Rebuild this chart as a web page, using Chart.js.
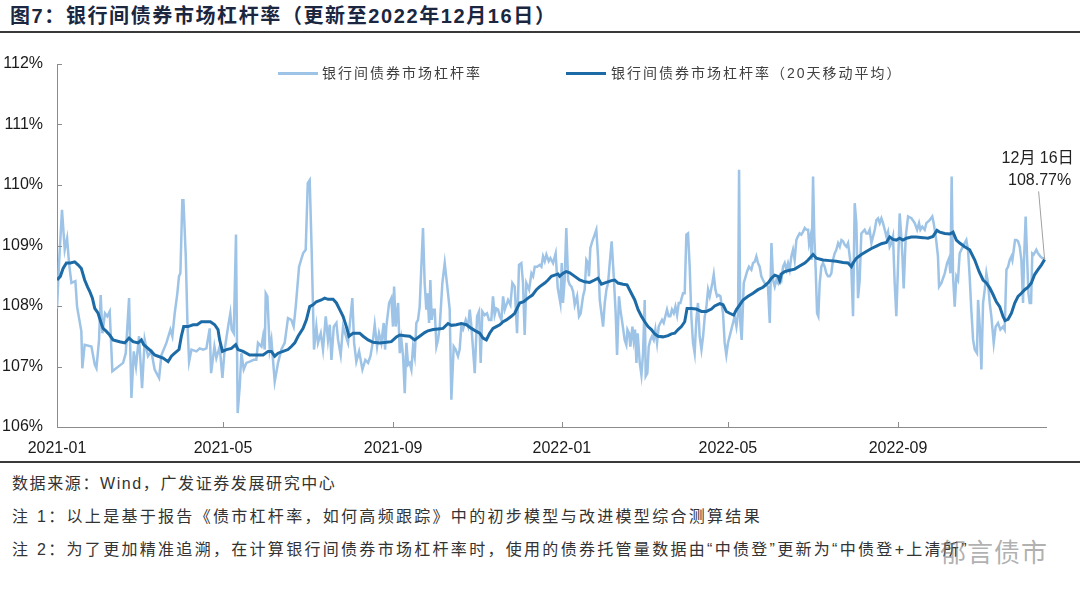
<!DOCTYPE html>
<html>
<head>
<meta charset="utf-8">
<script src="https://cdn.jsdelivr.net/npm/chart.js@4/dist/chart.umd.min.js"></script>
<style>
  body { margin:0; width:1080px; height:591px; background:#fff; position:relative; overflow:hidden;
         font-family:"Liberation Sans","Noto Sans CJK SC",sans-serif; }
  .title { position:absolute; left:10px; top:0px; font-size:20px; font-weight:bold; color:#1b2640; white-space:nowrap; letter-spacing:1.6px; }
  .rule { position:absolute; left:0; width:1080px; height:2px; background:#3a3a3a; }
  .wrap { position:absolute; left:0; top:50px; width:1080px; height:410px; }
  .legend { position:absolute; top:63px; height:20px; font-size:14px; color:#404040; letter-spacing:2px; white-space:nowrap; }
  .legend span.sw { position:absolute; top:9px; height:3px; }
  .legend span.tx { position:absolute; top:0; line-height:20px; }
  .note { position:absolute; left:12px; font-size:16px; color:#333; white-space:nowrap; letter-spacing:2.3px; }
  .mark { position:absolute; left:940px; top:532px; font-size:26px; color:rgba(110,110,110,0.55); letter-spacing:1px; }
</style>
</head>
<body>
<div class="title">图7：银行间债券市场杠杆率（更新至2022年12月16日）</div>
<div class="rule" style="top:31px"></div>
<div class="wrap"><canvas id="c"></canvas></div>
<div class="legend" style="left:0;width:1080px">
  <span class="sw" style="left:278px;width:40px;background:#9dc3e6"></span>
  <span class="tx" style="left:322px">银行间债券市场杠杆率</span>
  <span class="sw" style="left:566px;width:40px;background:#1c6ba6"></span>
  <span class="tx" style="left:611px">银行间债券市场杠杆率（20天移动平均）</span>
</div>
<div class="rule" style="top:461px"></div>
<div class="note" style="top:470px;letter-spacing:1.6px">数据来源：Wind，广发证券发展研究中心</div>
<div class="note" style="top:503px">注 1：以上是基于报告《债市杠杆率，如何高频跟踪》中的初步模型与改进模型综合测算结果</div>
<div class="note" style="top:536px">注 2：为了更加精准追溯，在计算银行间债券市场杠杆率时，使用的债券托管量数据由“中债登”更新为“中债登+上清所”</div>
<div class="mark">郁言债市</div>
<script>
// x = days since 2021-01-01, y = leverage (%)
const tickDays = [0, 120, 243, 365, 485, 608];
const tickLabels = ['2021-01', '2021-05', '2021-09', '2022-01', '2022-05', '2022-09'];
const lastDateLabel = '12月 16日';

const rawSeries = [
  [0,107.96],[1.5,108.71],[3.6,109.59],[5.6,108.93],[7.3,109.12],[8.7,108.71],[10.4,108.38],[13.3,108.41],
  [14.5,107.99],[17.6,107.58],[18.3,106.97],[20,107.36],[24.9,107.33],[27.3,107.03],[28.5,106.97],[30.4,107.44],
  [31.6,108.18],[32.8,107.55],[34.7,107.88],[36.4,107.83],[38.1,107.91],[40,106.92],[47.8,107.06],[49.7,107.22],
  [52.1,108.13],[53.8,106.48],[55.5,107.25],[57.1,107.0],[59.3,107.5],[61.5,106.64],[63.4,107.44],[65.8,107.17],
  [68.2,107.25],[70.6,106.95],[73.8,106.81],[75.5,107.19],[79.1,107.39],[82,107.61],[83.4,107.5],[85.1,107.88],
  [87,108.21],[88.2,108.49],[89.2,108.54],[90.6,109.75],[91.4,109.75],[93.1,108.82],[94.3,107.72],[95.5,107.08],
  [97.2,107.28],[100.8,107.25],[103.2,107.3],[105.6,107.28],[108,107.3],[110.4,107.63],[111.4,106.89],[113.8,107.33],
  [115.2,107.14],[117.6,107.33],[119.6,106.81],[121.2,107.28],[123.7,107.66],[125.3,107.88],[126.3,107.61],[127.8,107.55],
  [129.4,109.18],[130.6,106.23],[132.1,106.67],[133.3,107.22],[135,106.95],[136.9,107.06],[139.3,107.08],[142.2,107.11],
  [144.1,107.11],[145.3,107.39],[147.8,107.33],[149,107.5],[150.2,107.28],[150.9,108.21],[152.1,108.16],[153.8,107.28],
  [155,107.44],[157.4,106.75],[159.8,107.06],[162.2,107.28],[164.6,107.39],[167,107.8],[169.4,107.77],[171.1,107.66],
  [172.6,107.99],[175,108.65],[177.9,108.87],[179.8,108.93],[181.3,110.03],[182.7,110.08],[184.1,108.93],[185.8,107.28],
  [187.5,107.66],[188.7,107.39],[190.7,107.55],[192.3,107.28],[194.3,107.83],[195.9,107.44],[197.2,107.69],[198.4,107.11],
  [200.1,107.66],[202,107.72],[203.2,107.44],[205.1,107.19],[206.8,107.66],[210.4,107.39],[213.5,108.13],[214.8,107.39],
  [216.4,107.08],[218.4,107.25],[220.8,106.95],[222.9,107.11],[224.9,107.06],[226.6,107.17],[228.2,107.39],[229.7,107.69],
  [231.4,107.33],[232.8,107.55],[234.5,107.39],[236.2,107.72],[237.2,107.28],[238.1,107.66],[240.1,108.05],[241.7,108.13],
  [242.9,107.66],[243.7,108.32],[244.9,107.66],[246.6,108.05],[247.8,107.22],[249,107.44],[250.2,107.17],[251.4,106.56],
  [252.6,107.39],[253.8,107.03],[255,107.06],[256.2,106.95],[257.4,107.33],[258.6,107.17],[259.8,107.72],[261,107.77],
  [262.2,107.99],[263.4,108.65],[264.6,109.29],[265.8,108.38],[267,107.94],[267.8,108.21],[269,107.72],[269.9,108.43],
  [270.9,107.77],[271.9,107.94],[273.1,107.94],[274.3,107.33],[275.5,107.44],[276.7,107.66],[278.6,108.38],[280.3,108.71],
  [282.7,108.21],[283.9,107.94],[285.1,106.45],[286.8,107.33],[288.2,107.28],[289.9,107.17],[291.1,107.28],[292.3,107.66],
  [293.5,107.61],[295.5,107.77],[297.2,107.66],[298.4,107.94],[299.6,107.66],[302,106.89],[303.7,107.83],[305.1,107.91],
  [306.3,107.06],[307.5,107.91],[309.2,107.85],[310.9,107.88],[312.3,107.77],[314,107.77],[315.2,108.16],[316.4,107.85],
  [317.6,107.96],[318.9,107.94],[320.1,107.83],[321.3,107.77],[322.5,108.16],[323.7,107.94],[326.1,108.1],[327.8,108.02],
  [329.2,108.38],[330.9,108.32],[332.6,107.55],[334,108.68],[335.7,108.71],[336.9,108.38],[338.1,107.52],[339.3,108.38],
  [341.3,108.27],[343,108.54],[344.2,108.49],[345.4,108.65],[347.1,108.65],[349,108.68],[350.2,108.65],[351.4,108.82],
  [352.6,108.74],[353.8,108.85],[355.5,108.74],[356.7,108.79],[358.6,108.71],[360.5,108.87],[362,108.3],[363.9,108.05],
  [364.9,108.71],[365.8,108.05],[367,108.43],[368.2,109.29],[369.5,108.43],[370.7,108.35],[371.9,108.32],[373.1,108.24],
  [374.3,108.02],[376,108.16],[377.4,107.83],[378.6,107.88],[380.3,108.16],[381.5,108.27],[382.7,108.76],[383.9,108.71],
  [384.6,108.49],[385.6,108.96],[387,109.07],[388.7,109.18],[389.9,109.26],[391.1,108.82],[392.4,108.1],[393.6,107.88],
  [394.8,107.66],[396,108.05],[397.2,108.27],[398.4,108.38],[399.6,108.71],[401,109.07],[402.5,108.49],[403.9,107.88],
  [404.9,107.19],[406.3,108.16],[407.3,107.94],[408.7,107.72],[410.4,107.44],[411.6,107.36],[412.4,107.61],[413.6,107.55],
  [414.5,107.33],[416,107.66],[416.9,107.44],[417.9,107.61],[418.9,107.06],[419.8,107.55],[421.3,107.06],[422.5,106.86],
  [423.7,107.22],[424.9,108.1],[425.6,106.84],[426.8,106.89],[427.8,107.33],[429,107.44],[430.2,107.5],[431.4,107.44],
  [432.6,107.61],[433.8,107.39],[435,107.66],[436.2,107.72],[437.4,107.77],[438.6,107.72],[439.8,107.83],[441,107.94],
  [442.2,107.83],[443.4,107.83],[444.6,107.94],[445.9,107.88],[447.1,107.99],[448.3,107.85],[449.5,108.05],[450.7,108.05],
  [451.6,108.13],[452.6,108.21],[453.8,108.21],[455,109.18],[456.2,109.2],[457.4,108.65],[458.6,107.83],[459.8,107.39],
  [461,107.22],[462.2,107.77],[463.4,108.05],[464.6,107.5],[465.9,107.28],[467.1,107.5],[468.3,107.83],[469.5,107.99],
  [470.7,108.27],[471.9,108.16],[473.8,108.38],[474.8,108.52],[476,108.27],[477.2,108.16],[478.4,108.18],[479.6,108.16],
  [481.5,107.88],[482.7,107.39],[483.9,107.19],[485.1,107.39],[486.3,107.5],[487.5,107.61],[488.7,107.72],[489.9,107.83],
  [491.2,107.66],[492.4,107.88],[493.1,110.25],[494,107.72],[495,107.44],[496.5,108.38],[497.9,108.49],[498.9,108.57],
  [500.3,108.65],[502,108.6],[503.2,108.71],[504.4,108.73],[505.6,108.82],[506.8,108.71],[508,108.65],[509.2,108.49],
  [510.4,108.43],[511.6,108.38],[512.8,108.35],[514,108.32],[515.3,107.72],[516.5,109.04],[517.7,108.43],[518.9,108.32],
  [520.1,108.43],[521.3,108.38],[522.5,108.49],[523.7,108.43],[524.9,108.65],[526.1,108.71],[527.3,108.6],[528.5,108.71],
  [529.7,108.6],[530.9,108.82],[532.1,108.93],[533.3,108.76],[534.5,109.09],[535.7,109.15],[536.9,109.2],[538.1,109.18],
  [539.4,109.23],[540.6,109.29],[541.8,109.26],[543,109.26],[543.7,109.04],[544.7,109.15],[545.6,108.76],[546.6,110.14],
  [547.5,109.15],[548.5,108.6],[549.5,107.88],[550.4,107.83],[551.4,108.38],[552.6,108.65],[553.8,108.71],[555,108.65],
  [556.2,108.54],[557.4,108.49],[558.6,108.49],[559.8,108.54],[561,108.76],[562.2,108.87],[563.4,108.93],[564.7,109.04],
  [565.9,108.98],[567.1,109.09],[568.3,109.07],[569.5,109.01],[570.7,108.98],[571.9,109.04],[573.1,108.82],[574.3,108.6],
  [575.5,107.83],[576.7,109.7],[577.9,109.37],[579.1,108.13],[580.3,108.43],[581.5,109.2],[582.7,109.23],[583.9,109.26],
  [585.1,109.2],[586.3,109.2],[587.5,109.26],[588.8,109.04],[590,109.15],[591.2,109.26],[592.4,109.42],[593.6,109.45],
  [594.8,109.37],[596,109.45],[597.2,109.37],[598.4,109.26],[599.6,109.15],[600.8,109.23],[602,108.98],[603.2,109.04],
  [604.4,109.15],[605.6,108.38],[606.8,107.83],[608,108.65],[609.2,109.53],[610.4,109.15],[611.2,108.82],[612.1,108.29],
  [613.6,109.15],[615.3,109.48],[617.7,109.45],[620.1,109.37],[621.8,109.26],[623.2,109.37],[624.2,109.26],[625.6,109.31],
  [627.3,109.26],[628.5,109.37],[630.9,109.42],[632.8,109.48],[633.8,109.37],[635.3,109.15],[636.9,108.82],[637.7,108.32],
  [639.4,108.38],[641.8,108.54],[643.5,108.71],[644.9,108.79],[645.9,108.54],[646.8,110.14],[647.8,108.49],[649,107.99],
  [650.2,108.49],[651.4,108.43],[652.6,108.87],[653.8,108.93],[655,108.98],[656.2,109.04],[657.4,109.09],[658.6,108.93],
  [659.8,108.49],[661,107.94],[662.3,107.44],[663.5,107.28],[665.1,107.22],[665.9,108.1],[667.1,107.66],[668.3,106.95],
  [669.5,108.05],[670.7,108.27],[671.9,108.54],[673.1,108.38],[674.3,108.05],[675.5,107.83],[677.2,107.39],[678.6,107.66],
  [680.3,107.72],[682,107.61],[683.9,107.66],[685.1,107.61],[686.4,108.6],[687.6,108.65],[688.8,108.76],[690,108.82],
  [690.7,108.76],[691.7,108.93],[692.6,109.09],[693.6,109.09],[694.8,109.07],[696,108.98],[697.2,108.76],[698.4,108.05],
  [699.1,108.76],[700.3,109.48],[701.3,108.82],[702.3,108.21],[703.2,108.05],[704.2,108.05],[705.1,108.87],[706.1,108.85],
  [708,108.93],[709.2,108.87],[710.9,108.82],[712.4,108.79],[713.3,108.79],[714,108.77]
];

const maSeries = [
  [0,108.43],[2.4,108.49],[4.4,108.62],[6.8,108.71],[9.7,108.71],[12.8,108.73],[15.2,108.68],[17.6,108.62],
  [20,108.43],[22,108.32],[23.7,108.24],[25.6,108.13],[27.3,107.96],[29.7,107.88],[31.6,107.74],[33.3,107.63],
  [35.7,107.58],[38.1,107.52],[40.5,107.44],[45.3,107.41],[49,107.39],[52.1,107.47],[55,107.41],[58.6,107.39],
  [61,107.44],[62.7,107.36],[65.8,107.3],[68.2,107.25],[70.6,107.19],[73.1,107.17],[76.7,107.14],[80.3,107.08],
  [82.7,107.17],[85.1,107.22],[88.2,107.28],[89.9,107.5],[91.6,107.66],[94.7,107.66],[98.4,107.69],[101.3,107.69],
  [104.4,107.74],[108,107.74],[110.9,107.74],[114,107.69],[116.4,107.61],[117.6,107.44],[119.6,107.25],[122.5,107.28],
  [126.1,107.3],[129.2,107.36],[130.9,107.28],[134.5,107.25],[139.3,107.19],[144.1,107.19],[149,107.19],[152.6,107.25],
  [155,107.25],[157.4,107.17],[159.8,107.22],[163.4,107.25],[167,107.28],[169.4,107.33],[171.9,107.39],[174.3,107.5],
  [177.9,107.63],[180.3,107.77],[182.7,107.99],[185.1,108.02],[187.5,108.07],[191.1,108.1],[193.5,108.13],[196,108.11],
  [199.6,108.11],[202,108.05],[204.4,107.94],[206.8,107.83],[209.2,107.66],[211.1,107.5],[214,107.55],[218.8,107.55],
  [221.3,107.5],[224.9,107.44],[228.5,107.4],[233.3,107.39],[238.1,107.4],[241.7,107.41],[245.4,107.49],[247.8,107.52],
  [251.4,107.51],[255,107.5],[258.6,107.44],[262.2,107.5],[265.8,107.56],[268.2,107.59],[271.9,107.61],[275.5,107.62],
  [279.1,107.63],[282.7,107.71],[285.1,107.68],[288.7,107.69],[292.3,107.71],[296,107.69],[299.6,107.63],[303.2,107.58],
  [305.6,107.55],[308,107.47],[310.4,107.44],[312.8,107.55],[315.2,107.63],[317.6,107.66],[320.1,107.69],[322.5,107.74],
  [324.9,107.77],[328.5,107.83],[330.9,107.88],[332.6,107.96],[334.5,108.05],[337.4,108.07],[340.5,108.13],[343.7,108.18],
  [346.6,108.27],[349,108.32],[352.6,108.38],[355,108.43],[357.4,108.49],[359.8,108.51],[362.2,108.53],[363.4,108.49],
  [365.8,108.54],[368.2,108.57],[370.7,108.55],[374.3,108.49],[377.9,108.43],[381.5,108.4],[385.1,108.39],[388.7,108.43],
  [391.1,108.46],[393.6,108.36],[397.2,108.39],[400.8,108.42],[403.2,108.43],[405.6,108.38],[409.2,108.36],[412.1,108.35],
  [415.2,108.21],[417.7,108.1],[420.1,107.94],[422.5,107.83],[424.9,107.74],[427.3,107.66],[429.7,107.61],[432.1,107.54],
  [434.5,107.5],[438.1,107.49],[441.8,107.51],[444.2,107.54],[446.6,107.55],[449,107.61],[451.4,107.66],[453.8,107.74],
  [455.5,107.96],[458.6,107.96],[462.2,107.95],[465.9,107.91],[469.5,107.91],[473.1,107.95],[475.5,108.0],[479.1,108.04],
  [481.5,108.02],[483.9,107.91],[486.3,107.88],[489.2,107.85],[491.2,107.94],[493.6,108.02],[496,108.1],[499.6,108.16],
  [503.2,108.21],[506.8,108.27],[510.4,108.31],[514,108.38],[516.5,108.46],[518.9,108.51],[521.3,108.49],[522.5,108.42],
  [523.7,108.53],[526.1,108.57],[529.7,108.59],[533.3,108.61],[536.9,108.66],[540.6,108.71],[543,108.76],[546.6,108.85],
  [549,108.79],[553.8,108.76],[558.6,108.75],[563.4,108.74],[568.3,108.72],[571.9,108.71],[574.3,108.65],[575.5,108.71],
  [577.9,108.79],[581.5,108.85],[585.1,108.9],[588.8,108.95],[592.4,108.99],[596,109.03],[599.6,109.05],[602,109.14],
  [604.4,109.1],[606.8,109.09],[609.2,109.12],[611.6,109.09],[614.1,109.12],[617.7,109.14],[621.3,109.14],[626.1,109.13],
  [629.7,109.12],[633.3,109.15],[636.2,109.25],[638.2,109.22],[641.8,109.2],[645.4,109.19],[647.8,109.22],[650.2,109.09],
  [652.6,109.04],[656.2,108.98],[659.8,108.93],[663.5,108.76],[666.6,108.57],[669.5,108.43],[671.9,108.38],[674.3,108.3],
  [676.7,108.19],[679.1,108.07],[681.5,107.99],[683.9,107.83],[685.4,107.76],[687.6,107.78],[690,107.88],[692.4,108.05],
  [694.8,108.16],[697.2,108.21],[699.6,108.27],[702,108.31],[704.4,108.38],[706.8,108.52],[709.2,108.6],[711.7,108.68],
  [714,108.77]
];

const axisColor = '#8c8c8c';
const labelFont = { family: '"Liberation Sans", Arial, sans-serif', size: 16 };

const innerTicks = {
  id: 'innerTicks',
  afterDraw(chart) {
    const { ctx, chartArea: a, scales: { x, y } } = chart;
    ctx.save();
    ctx.strokeStyle = axisColor;
    ctx.lineWidth = 1;
    ctx.beginPath();
    y.ticks.forEach(t => {
      const py = Math.round(y.getPixelForValue(t.value)) + 0.5;
      ctx.moveTo(a.left, py); ctx.lineTo(a.left + 5, py);
    });
    x.ticks.forEach(t => {
      const px = Math.round(x.getPixelForValue(t.value)) + 0.5;
      ctx.moveTo(px, a.bottom); ctx.lineTo(px, a.bottom - 5);
    });
    ctx.stroke();
    ctx.restore();
  }
};

const lastLabel = {
  id: 'lastLabel',
  afterDatasetsDraw(chart) {
    const meta = chart.getDatasetMeta(1);
    const pt = meta.data[meta.data.length - 1];
    const last = maSeries[maSeries.length - 1][1];
    const ctx = chart.ctx;
    ctx.save();
    ctx.strokeStyle = '#a0a0a0';
    ctx.lineWidth = 1;
    ctx.beginPath();
    ctx.moveTo(pt.x, pt.y);
    ctx.lineTo(pt.x - 6, pt.y - 68);
    ctx.stroke();
    ctx.fillStyle = '#222';
    ctx.textAlign = 'center';
    ctx.textBaseline = 'middle';
    ctx.font = '16px "Liberation Sans", "Noto Sans CJK SC", sans-serif';
    ctx.fillText(lastDateLabel, pt.x - 7, pt.y - 101);
    ctx.fillText(last.toFixed(2) + '%', pt.x - 5, pt.y - 79);
    ctx.restore();
  }
};

new Chart(document.getElementById('c'), {
  type: 'line',
  data: {
    datasets: [
      {
        label: '银行间债券市场杠杆率',
        data: rawSeries.map(p => ({ x: p[0], y: p[1] })),
        borderColor: '#9dc3e6',
        borderWidth: 2.5,
        pointRadius: 0,
        tension: 0,
        order: 1
      },
      {
        label: '银行间债券市场杠杆率（20天移动平均）',
        data: maSeries.map(p => ({ x: p[0], y: p[1] })),
        borderColor: '#1c6ba6',
        borderWidth: 3,
        pointRadius: 0,
        tension: 0,
        order: 0
      }
    ]
  },
  options: {
    responsive: true,
    maintainAspectRatio: false,
    animation: false,
    layout: { padding: { top: 14, right: 34, left: 0, bottom: 3 } },
    plugins: { legend: { display: false }, tooltip: { enabled: false } },
    scales: {
      x: {
        type: 'linear',
        min: 0,
        max: 715,
        grid: { display: false, drawTicks: false },
        border: { display: true, color: axisColor, width: 1 },
        afterBuildTicks: s => { s.ticks = tickDays.map(v => ({ value: v })); },
        afterFit: s => { s.height = 30; s.paddingLeft = 0; s.paddingRight = 0; },
        ticks: {
          autoSkip: false,
          maxRotation: 0,
          padding: 12,
          color: '#1a1a1a',
          font: labelFont,
          callback: v => tickLabels[tickDays.indexOf(v)]
        }
      },
      y: {
        min: 106,
        max: 112,
        grid: { display: false, drawTicks: false },
        border: { display: true, color: axisColor, width: 1 },
        afterFit: s => { s.width = 57; s.paddingTop = 0; s.paddingBottom = 0; },
        ticks: {
          stepSize: 1,
          padding: 14,
          color: '#1a1a1a',
          font: labelFont,
          callback: v => v + '%'
        }
      }
    }
  },
  plugins: [innerTicks, lastLabel]
});
</script>
</body>
</html>
